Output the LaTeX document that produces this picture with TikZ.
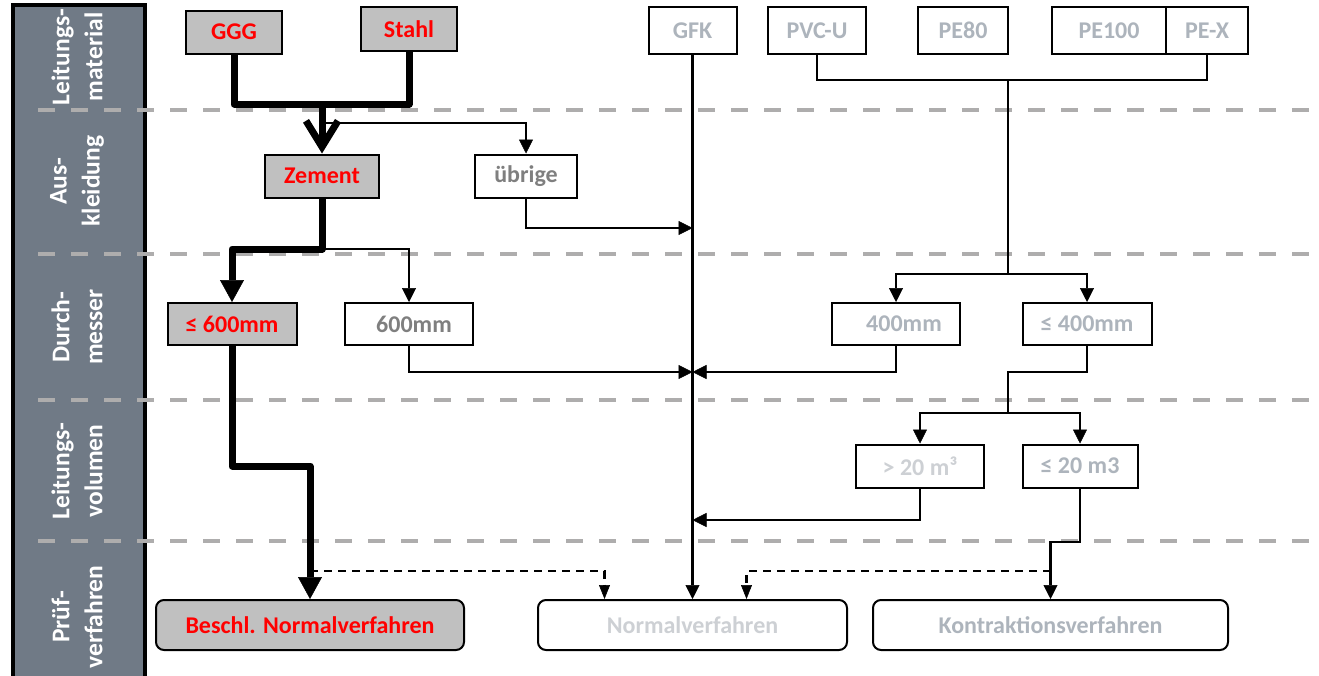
\documentclass[tikz,border=0pt]{standalone}
\usepackage{fontspec}
\setmainfont{Carlito}
\usetikzlibrary{arrows.meta}
\definecolor{SideGrey}{HTML}{707A86}
\definecolor{BoxGrey}{HTML}{C0C0C0}
\definecolor{LineGrey}{HTML}{AEADAD}
\definecolor{TextRed}{HTML}{FF0000}
\definecolor{TextDark}{HTML}{7F7F7F}
\definecolor{TextPale}{HTML}{ADB4BC}
\definecolor{TextPaler}{HTML}{CDD0D4}
\begin{document}
\begin{tikzpicture}[x=1pt, y=-1pt,
  every node/.style={font=\fontsize{24}{28}\selectfont\bfseries},
  box/.style={draw, line width=2pt, fill=white, minimum height=43pt, inner sep=0pt},
  selbox/.style={box, fill=BoxGrey, text=TextRed},
  palebox/.style={box, text=TextPale},
  endbox/.style={rounded corners=8pt, minimum height=50pt},
  sidetext/.style={text=white, rotate=90, align=center, font=\fontsize{25.5}{33}\selectfont\bfseries},
  sectionline/.style={LineGrey, line width=4pt, dash pattern=on 17pt off 16pt},
  thinline/.style={line width=2.5pt},
  thinarrow/.style={thinline, -{Triangle[length=14pt,width=14pt,line width=0.5pt]}},
  dasharrow/.style={thinline, dash pattern=on 8pt off 6pt, -{Triangle[length=14pt,width=11pt,line width=0.5pt]}},
  thickline/.style={line width=7pt, line join=round},
  thickarrow/.style={thickline, -{Triangle[length=22pt,width=24pt,line width=0.5pt]}}]
  \useasboundingbox (0,0) rectangle (1319,675);
  \clip (0,0) rectangle (1319,675);

  % side bar and sections
  \draw[line width=4pt, fill=SideGrey] (13,5) rectangle (145,700);
  \foreach \y in {110,254,400,541}{%
    \draw[sectionline] (38,\y) -- (1319,\y);
  }
  \node[sidetext] (smat) at (77,57) {Leitungs-\\material};
  \node[sidetext] (saus) at (77,181) {Aus-\\kleidung};
  \node[sidetext] (sdm) at (77,327) {Durch-\\messer};
  \node[sidetext] (svol) at (77,471) {Leitungs-\\volumen};
  \node[sidetext] (spruef) at (77,617) {Prüf-\\verfahren};

  % Leitungsmaterial
  \node[selbox, minimum width=96pt] (ggg) at (234,32) {GGG};
  \node[selbox, minimum width=96pt, minimum height=44pt] (stahl) at (409,29) {Stahl};
  \node[palebox, minimum width=88pt, minimum height=47pt] (gfk) at (692.5,30.5) {GFK};
  \node[palebox, minimum width=98pt, minimum height=47pt] (pvcu) at (817,30.5) {PVC-U};
  \node[palebox, minimum width=90pt, minimum height=47pt] (pe80) at (963,30.5) {PE80};
  \node[palebox, minimum width=114pt, minimum height=47pt] (pe100) at (1109,30.5) {PE100};
  \node[palebox, minimum width=82pt, minimum height=47pt] (pex) at (1207,30.5) {PE-X};

  % Auskleidung
  \node[selbox, minimum width=114pt] (zement) at (322,176) {Zement};
  \node[box, minimum width=102pt, text=TextDark] (uebrige) at (526,176) {übrige};

  % Durchmesser
  \node[selbox, minimum width=129pt, minimum height=42pt] (le600) at (232,324) {≤ 600mm};
  \node[box, minimum width=128pt, minimum height=42pt, text=TextDark] (gt600) at (409,324) {\hspace*{10pt}600mm};
  \node[palebox, minimum width=128pt, minimum height=42pt] (gt400) at (896,324) {\hspace*{16pt}400mm};
  \node[palebox, minimum width=129pt, minimum height=42pt] (le400) at (1087,324) {≤ 400mm};

  % Leitungsvolumen
  \node[box, minimum width=128pt, text=TextPaler] (gt20) at (920,466) {> 20 m³};
  \node[palebox, minimum width=115pt] (le20) at (1080,466) {≤ 20 m3};

  % Pruefverfahren
  \node[selbox, endbox, minimum width=308pt] (beschl) at (310,625) {Beschl. Normalverfahren};
  \node[box, endbox, minimum width=309pt, text=TextPaler] (normal) at (692.5,625) {Normalverfahren};
  \node[palebox, endbox, minimum width=355pt] (kontr) at (1050.5,625) {Kontraktionsverfahren};

  % junctions
  \coordinate (jmat) at (322,104);
  \coordinate (jaus) at (322,123);
  \coordinate (jdm) at (322,249);
  \coordinate (jvol) at (310,466);
  \coordinate (jpe) at (1008,80);
  \coordinate (jpedm) at (1008,274);
  \coordinate (jle1) at (1008,372);
  \coordinate (jle2) at (1008,413);
  \coordinate (jk) at (1050.5,542);
  \coordinate (kaus) at (692.5,228);
  \coordinate (kdm) at (692.5,372);
  \coordinate (kvol) at (692.5,520);
  \coordinate (dsplit) at (310,571);
  \coordinate (dsplitk) at (1050.5,571);

  % connectors
  \draw[thinarrow] (jaus) -| (uebrige.north);
  \draw[thickline] (ggg.south) |- (jmat) -| (stahl.south);
  \draw[thickline, -{Straight Barb[length=26pt,width=32pt]}] (jmat) -- (zement.north);
  \draw[thinarrow] (uebrige.south) |- (kaus);
  \draw[thinarrow] (gfk.south) -- (normal.north);
  \draw[thinline] (pvcu.south) |- (jpe) -| (pex.south);
  \draw[thinarrow] (jpe) -- (jpedm) -| (gt400.north);
  \draw[thinarrow] (jpedm) -| (le400.north);
  \draw[thinarrow] (jdm) -| (gt600.north);
  \draw[thickarrow] (zement.south) -- (jdm) -| (le600.north);
  \draw[thinarrow] (gt600.south) |- (kdm);
  \draw[thinarrow] (gt400.south) |- (kdm);
  \draw[thinline] (le400.south) |- (jle1) -- (jle2);
  \draw[thinarrow] (jle2) -| (gt20.north);
  \draw[thinarrow] (jle2) -| (le20.north);
  \draw[thinarrow] (gt20.south) |- (kvol);
  \draw[thinarrow] (le20.south) |- (jk) -- (kontr.north);
  \draw[thickarrow] (le600.south) |- (jvol) -- (beschl.north);
  \draw[dasharrow] (dsplit) -| ([xshift=-88pt]normal.north);
  \draw[dasharrow] (dsplitk) -| ([xshift=54pt]normal.north);
\end{tikzpicture}
\end{document}
